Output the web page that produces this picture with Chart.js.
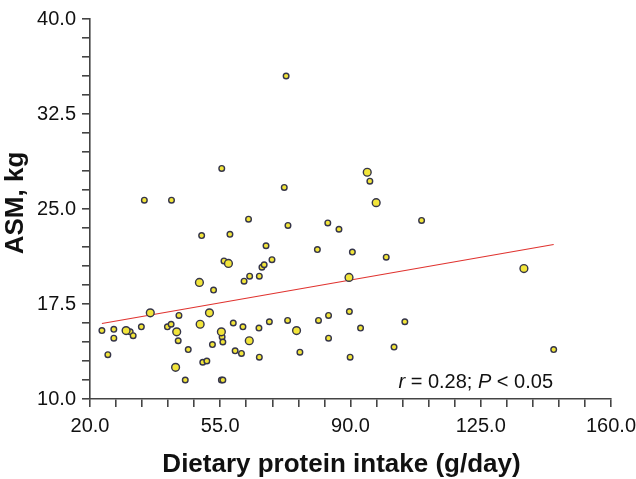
<!DOCTYPE html>
<html>
<head>
<meta charset="utf-8">
<script src="https://cdn.jsdelivr.net/npm/chart.js@4.4.3/dist/chart.umd.min.js"></script>
<style>
  html, body { margin: 0; padding: 0; background: #fff; }
  canvas { display: block; }
</style>
</head>
<body>
<canvas id="asm-chart" width="636" height="479"></canvas>
<script>
// values: dietary protein intake (g/day) vs ASM (kg)

// regular markers
const intakeSmall = [72.7, 55.4, 72.2, 34.6, 41.9, 62.6, 73.2, 50.0, 57.6, 67.3,
    81.1, 56.0, 68.9, 66.2, 66.8, 62.9, 61.4, 65.5, 53.2, 95.2,
    83.9, 86.9, 109.1, 90.5, 99.6, 144.6, 43.9, 23.2, 26.4, 26.4,
    30.8, 31.6, 33.8, 40.8, 41.8, 43.7, 46.4, 24.8, 45.6, 50.3,
    51.4, 52.9, 58.5, 61.1, 65.4, 68.2, 73.1, 81.4, 55.5, 55.7,
    59.0, 60.7, 65.5, 76.4, 55.3, 55.7, 84.1, 89.7, 92.7, 104.6,
    84.1, 101.7, 89.9];
const asmSmall = [35.5, 28.2, 26.7, 25.7, 25.7, 24.2, 23.7, 22.9, 23.0, 22.1,
    21.8, 20.9, 21.0, 20.4, 20.6, 19.7, 19.3, 19.7, 18.6, 27.2,
    23.9, 23.4, 24.1, 21.6, 21.2, 13.9, 16.6, 15.4, 15.5, 14.8,
    15.3, 15.0, 15.7, 15.7, 15.9, 14.6, 13.9, 13.5, 11.5, 12.9,
    13.0, 14.3, 16.0, 15.7, 15.6, 16.1, 16.2, 16.2, 14.9, 14.5,
    13.8, 13.6, 13.3, 13.7, 11.5, 11.5, 16.6, 16.9, 15.6, 16.1,
    14.8, 14.1, 13.3];

// the bigger markers
const intakeLarge = [57.2, 49.4, 94.5, 96.9, 89.6, 136.6, 36.2, 52.1, 29.7, 43.3,
    43.0, 49.6, 75.5, 55.3, 62.8];
const asmLarge = [20.7, 19.2, 27.9, 25.5, 19.6, 20.3, 16.8, 16.8, 15.4, 15.3,
    12.5, 15.9, 15.4, 15.3, 14.6];

// fitted line end points
const fitIntake = [23.2, 144.6];
const fitAsm = [15.96, 22.2];

const xLabelTicks = [20, 55, 90, 125, 160];
const yLabelTicks = [10, 17.5, 25, 32.5, 40];
const xTitle = 'Dietary protein intake (g/day)';
const yTitle = 'ASM, kg';
const statText = [["r", true], [" = 0.28; ", false], ["P", true], [" < 0.05", false]];

const FONT = "'Liberation Sans', Arial, Helvetica, sans-serif";
const AXIS_COLOR = '#444';

function toPoints(xs, ys) {
    return xs.map((x, i) => ({ x: x, y: ys[i] }));
}

function isLabelTick(value, list) {
    return list.some((v) => Math.abs(v - value) < 1e-6);
}

// axis titles, placed a little off the plot centre like the original
const titlePlugin = {
    id: 'axisTitles',
    afterDraw(chart) {
        const ctx = chart.ctx;
        const area = chart.chartArea;
        ctx.save();
        ctx.fillStyle = '#111';
        ctx.font = 'bold 26px ' + FONT;
        ctx.textAlign = 'center';
        ctx.textBaseline = 'middle';
        ctx.fillText(xTitle, (area.left + area.right) / 2 - 9, chart.height - 14);
        ctx.translate(16, (area.top + area.bottom) / 2 - 6);
        ctx.rotate(-Math.PI / 2);
        ctx.fillText(yTitle, 0, 0);
        ctx.restore();
    }
};

// writes "r = 0.28; P < 0.05" with italic letters, right aligned
const statPlugin = {
    id: 'statText',
    afterDatasetsDraw(chart) {
        const ctx = chart.ctx;
        const area = chart.chartArea;
        const size = 20;
        ctx.save();
        ctx.fillStyle = '#111';
        ctx.textBaseline = 'alphabetic';
        ctx.textAlign = 'left';
        let total = 0;
        for (const [txt, ital] of statText) {
            ctx.font = (ital ? 'italic ' : '') + size + 'px ' + FONT;
            total += ctx.measureText(txt).width;
        }
        let x = area.right - 58 - total;
        const y = area.bottom - 11;
        for (const [txt, ital] of statText) {
            ctx.font = (ital ? 'italic ' : '') + size + 'px ' + FONT;
            ctx.fillText(txt, x, y);
            x += ctx.measureText(txt).width;
        }
        ctx.restore();
    }
};

const ctx = document.getElementById('asm-chart');
new Chart(ctx, {
    type: 'scatter',
    data: {
        datasets: [
            {
                data: toPoints(intakeLarge, asmLarge),
                backgroundColor: '#f2e53a',
                borderColor: '#35354a',
                borderWidth: 1.4,
                pointRadius: 3.9,
                order: 1,
            },
            {
                data: toPoints(intakeSmall, asmSmall),
                backgroundColor: '#f2e53a',
                borderColor: '#35354a',
                borderWidth: 1.4,
                pointRadius: 2.8,
                order: 2,
            },
            {
                data: toPoints(fitIntake, fitAsm),
                showLine: true,
                borderColor: '#e0332f',
                borderWidth: 1.2,
                pointRadius: 0,
                order: 3,
            },
        ],
    },
    options: {
        responsive: false,
        animation: false,
        events: [],
        layout: { padding: { top: 19, right: 25, bottom: 0, left: 0 } },
        plugins: {
            legend: { display: false },
            tooltip: { enabled: false },
        },
        scales: {
            x: {
                type: 'linear',
                min: 20,
                max: 160,
                afterFit: (scale) => {
                    scale.height = 80;
                    scale.paddingRight = 25;
                },
                border: { display: true, color: AXIS_COLOR, width: 1.6 },
                grid: { drawOnChartArea: false, drawTicks: true, tickLength: 8, color: AXIS_COLOR, lineWidth: 1.6 },
                ticks: {
                    stepSize: 7,
                    autoSkip: false,
                    maxRotation: 0,
                    padding: 7,
                    color: '#111',
                    font: { family: FONT, size: 20 },
                    callback: (v) => isLabelTick(v, xLabelTicks) ? v.toFixed(1) : '',
                },
            },
            y: {
                type: 'linear',
                min: 10,
                max: 40,
                afterFit: (scale) => { scale.width = 90; },
                border: { display: true, color: AXIS_COLOR, width: 1.6 },
                grid: { drawOnChartArea: false, drawTicks: true, tickLength: 8, color: AXIS_COLOR, lineWidth: 1.6 },
                ticks: {
                    stepSize: 1.5,
                    autoSkip: false,
                    padding: 6,
                    color: '#111',
                    font: { family: FONT, size: 20 },
                    callback: (v) => isLabelTick(v, yLabelTicks) ? v.toFixed(1) : '',
                },
            },
        },
    },
    plugins: [statPlugin, titlePlugin],
});
</script>
</body>
</html>
